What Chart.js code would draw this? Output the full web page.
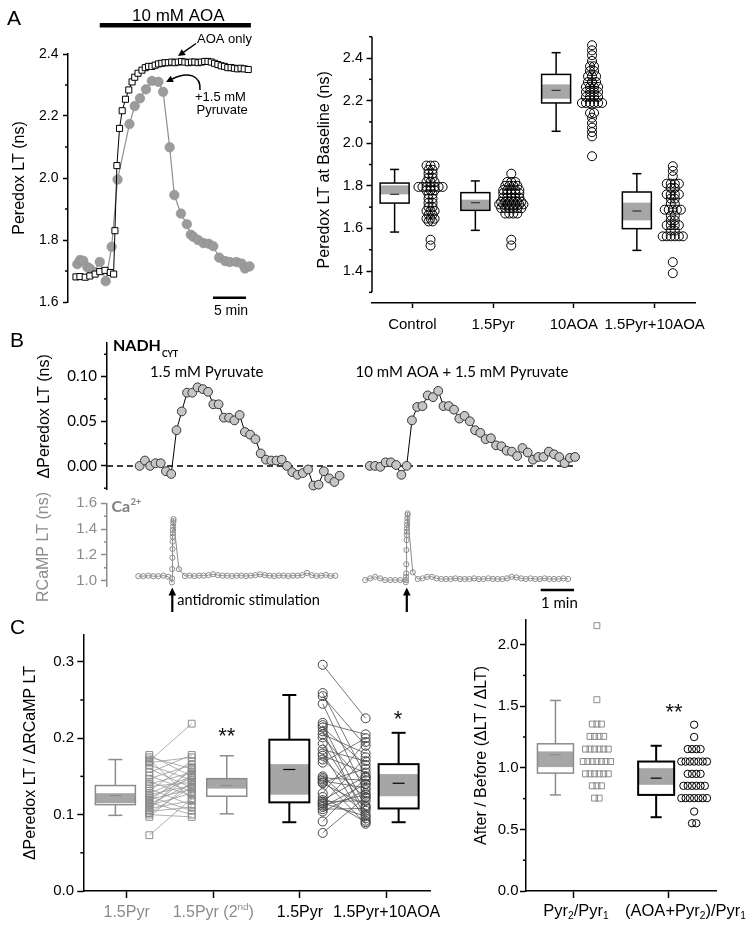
<!DOCTYPE html>
<html>
<head>
<meta charset="utf-8">
<title>Peredox / RCaMP lifetime figure</title>
<script src="https://cdn.jsdelivr.net/npm/chart.js@4.4.1/dist/chart.umd.min.js"></script>
<style>
  html, body { margin: 0; padding: 0; background: #fff; }
  #fig { position: relative; width: 754px; height: 929px; }
  #fig canvas { position: absolute; left: 0; top: 0; }
</style>
</head>
<body>
<div id="fig">
  <canvas id="a1" width="754" height="929"></canvas>
  <canvas id="a2" width="754" height="929"></canvas>
  <canvas id="b1" width="754" height="929"></canvas>
  <canvas id="b2" width="754" height="929"></canvas>
  <canvas id="c1" width="754" height="929"></canvas>
  <canvas id="c2" width="754" height="929"></canvas>
</div>
<script>
/* Peredox / RCaMP lifetime figure, panels A-C */

const ARIAL = '"Liberation Sans", Arial, sans-serif';
const HUMAN = 'Lato, "Open Sans", sans-serif';
const PAGE_W = 754, PAGE_H = 929;

/* ---- Panel A, left: single-cell traces (time in min, LT in ns) ---- */
const aoaTime = [0.3, 0.9, 1.7, 2.4, 3.2, 3.9, 4.7, 5.5, 6.0, 6.2, 6.5, 6.9, 7.3, 7.8, 8.3, 8.8, 9.2, 9.7, 10.3,
  10.8, 11.3, 11.8, 12.3, 12.8, 13.3, 13.8, 14.3, 14.8, 15.3, 15.8, 16.3, 16.8, 17.3, 17.8, 18.3, 18.8, 19.3,
  19.8, 20.3, 20.8, 21.3, 21.8, 22.3, 22.8, 23.3, 23.8, 24.3, 24.8, 25.3, 25.8, 26.4];
const aoaLT = [1.681, 1.682, 1.680, 1.684, 1.690, 1.698, 1.702, 1.695, 1.690, 1.830, 2.040, 2.160, 2.217, 2.254,
  2.284, 2.310, 2.325, 2.338, 2.348, 2.356, 2.360, 2.360, 2.364, 2.368, 2.370, 2.372, 2.372, 2.374, 2.372, 2.374,
  2.376, 2.374, 2.372, 2.374, 2.374, 2.372, 2.374, 2.376, 2.376, 2.374, 2.370, 2.366, 2.362, 2.360, 2.356, 2.356,
  2.354, 2.352, 2.354, 2.352, 2.350];
const pyrTime = [0.5, 0.9, 1.4, 2.0, 2.4, 3.0, 3.9, 4.8, 5.7, 6.6, 8.4, 9.2, 10.0, 10.9, 11.8, 12.8, 13.5, 14.5,
  15.2, 16.2, 17.1, 17.7, 18.1, 18.8, 19.6, 20.4, 21.1, 22.0, 22.9, 23.6, 24.6, 25.4, 25.9, 26.6];
const pyrLT = [1.722, 1.735, 1.733, 1.713, 1.708, 1.697, 1.729, 1.667, 1.778, 1.995, 2.174, 2.232, 2.257, 2.286,
  2.313, 2.310, 2.278, 2.099, 1.945, 1.885, 1.851, 1.817, 1.810, 1.800, 1.790, 1.788, 1.780, 1.743, 1.732, 1.729,
  1.729, 1.724, 1.708, 1.715];
const AOA_ON = [3.9, 26.8];
const SCALE_A = [21.06, 5];          // start, length (min)

/* ---- Panel A, right: baseline LT per cell ---- */
const baseGroups = ['Control', '1.5Pyr', '10AOA', '1.5Pyr+10AOA'];
const baseCtrl = [1.895, 1.895, 1.895, 1.875, 1.875, 1.857, 1.857, 1.838, 1.838, 1.818, 1.818, 1.818,
  1.795, 1.795, 1.795, 1.795, 1.795, 1.795, 1.795, 1.779, 1.779, 1.779, 1.76, 1.76, 1.74, 1.74, 1.72, 1.72,
  1.70, 1.70, 1.682, 1.682, 1.682, 1.665, 1.665, 1.646, 1.646, 1.646, 1.633, 1.633, 1.547, 1.52];
const basePyr = [1.857, 1.818, 1.818, 1.818, 1.80, 1.80, 1.80, 1.80, 1.78, 1.78, 1.78, 1.78, 1.78,
  1.765, 1.765, 1.765, 1.765, 1.765, 1.745, 1.745, 1.745, 1.745, 1.745, 1.725, 1.725, 1.725, 1.725, 1.725, 1.725,
  1.713, 1.713, 1.713, 1.713, 1.713, 1.713, 1.713, 1.695, 1.695, 1.695, 1.695, 1.695, 1.695,
  1.67, 1.67, 1.67, 1.67, 1.547, 1.52];
const baseAoa = [2.46, 2.436, 2.413, 2.386, 2.361, 2.361, 2.339, 2.339, 2.314, 2.314, 2.314, 2.287, 2.287, 2.287,
  2.264, 2.264, 2.264, 2.264, 2.24, 2.24, 2.24, 2.24, 2.217, 2.217, 2.217, 2.217,
  2.189, 2.189, 2.189, 2.189, 2.189, 2.189, 2.142, 2.142, 2.12, 2.095, 2.073, 2.052, 2.032, 1.939];
const basePyrAoa = [1.892, 1.87, 1.845, 1.81, 1.81, 1.81, 1.81, 1.79, 1.79, 1.76, 1.76, 1.76, 1.76, 1.74, 1.74,
  1.716, 1.716, 1.688, 1.688, 1.688, 1.688, 1.688, 1.66, 1.66, 1.638, 1.638, 1.615, 1.615, 1.615, 1.615,
  1.59, 1.59, 1.563, 1.563, 1.563, 1.563, 1.563, 1.563, 1.442, 1.39];
const baseHi     = [1.877, 1.823, 2.425, 1.857];
const baseQ3     = [1.813, 1.768, 2.323, 1.771];
const baseBandHi = [1.802, 1.735, 2.276, 1.721];
const baseBandLo = [1.760, 1.688, 2.209, 1.638];
const baseMean   = [1.760, 1.721, 2.248, 1.682];
const baseQ1     = [1.719, 1.685, 2.189, 1.599];
const baseLo     = [1.583, 1.591, 2.056, 1.497];

/* ---- Panel B, top: dPeredox LT after pyruvate (ns) ---- */
const nadhPyr = [0.000, 0.006, 0.000, 0.003, 0.003, -0.006, -0.009, 0.040, 0.061, 0.082, 0.082, 0.088, 0.086,
  0.083, 0.069, 0.069, 0.054, 0.054, 0.051, 0.057, 0.038, 0.035, 0.030, 0.014, 0.007, 0.006, 0.006, 0.007,
  0.000, -0.007, -0.010, -0.008, -0.004, -0.022, -0.021, -0.006, -0.014, -0.018, -0.011];
const nadhAoaPyr = [0.000, 0.000, -0.001, 0.004, 0.004, 0.001, -0.010, 0.000, 0.051, 0.066, 0.067, 0.079,
  0.077, 0.084, 0.067, 0.067, 0.063, 0.053, 0.056, 0.050, 0.040, 0.037, 0.030, 0.031, 0.023, 0.022, 0.017,
  0.016, 0.011, 0.020, 0.015, 0.007, 0.010, 0.010, 0.016, 0.013, 0.010, 0.003, 0.009, 0.010];
const NADH_START = [0.98, 7.89];     // min
const NADH_STEP = 0.158;

/* ---- Panel B, bottom: RCaMP LT around the stimulation (ns) ---- */
const rcamp1 = [
  1.035, 1.035, 1.039, 1.035, 1.035, 1.039, 1.030,                                   // before
  0.987, 1.018, 1.09, 1.178, 1.246, 1.302, 1.341, 1.367, 1.393, 1.419, 1.445, 1.463, 1.478, // burst
  1.09,
  1.036, 1.039, 1.036, 1.039, 1.039, 1.043, 1.051, 1.043, 1.039, 1.039, 1.036, 1.039, 1.039, 1.036, 1.039,
  1.043, 1.049, 1.043, 1.039, 1.036, 1.039, 1.039, 1.036, 1.039, 1.039, 1.043, 1.060, 1.043, 1.036, 1.039,
  1.045, 1.036, 1.039];
const rcamp2 = [
  1.005, 1.018, 1.03, 1.018, 1.005, 1.005, 1.005, 1.005,
  0.988, 1.005, 1.03, 1.056, 1.127, 1.238, 1.315, 1.354, 1.38, 1.406, 1.432, 1.457, 1.484, 1.509, 1.522,
  1.065,
  1.013, 1.018, 1.03, 1.03, 1.018, 1.013, 1.013, 1.013, 1.018, 1.013, 1.013, 1.013, 1.018, 1.013, 1.013,
  1.018, 1.013, 1.013, 1.013, 1.018, 1.03, 1.025, 1.018, 1.013, 1.018, 1.013, 1.013, 1.018, 1.013, 1.013,
  1.013, 1.018, 1.013];
const STIM_T = [1.96, 9.0];          // min
const SCALE_B = [13.02, 1];

/* ---- Panel C, left: dPeredox / dRCaMP, paired ---- */
const ratioGroups = ['1.5Pyr', '1.5Pyr (2^{nd})', '1.5Pyr', '1.5Pyr+10AOA'];
const pyrFirst = [0.170, 0.178, 0.175, 0.172, 0.168, 0.165, 0.160, 0.155, 0.151, 0.147, 0.143, 0.140, 0.137,
  0.134, 0.131, 0.128, 0.126, 0.124, 0.122, 0.120, 0.118, 0.116, 0.114, 0.112, 0.110, 0.108, 0.106, 0.104,
  0.102, 0.100, 0.097, 0.073];
const pyrSecond = [0.219, 0.150, 0.160, 0.120, 0.175, 0.145, 0.135, 0.178, 0.130, 0.165, 0.125, 0.155, 0.142,
  0.112, 0.170, 0.150, 0.138, 0.105, 0.148, 0.133, 0.158, 0.100, 0.140, 0.128, 0.152, 0.118, 0.162, 0.110,
  0.136, 0.097, 0.143, 0.121];
const pyrBefore = [0.296, 0.259, 0.255, 0.245, 0.220, 0.217, 0.214, 0.209, 0.205, 0.201, 0.193, 0.185, 0.180,
  0.177, 0.172, 0.168, 0.150, 0.148, 0.146, 0.144, 0.142, 0.141, 0.128, 0.123, 0.119, 0.117, 0.115, 0.114,
  0.112, 0.110, 0.107, 0.104, 0.091, 0.076];
const pyrAoaAfter = [0.226, 0.150, 0.190, 0.128, 0.205, 0.110, 0.165, 0.095, 0.180, 0.140, 0.105, 0.170, 0.092,
  0.155, 0.122, 0.200, 0.100, 0.145, 0.088, 0.135, 0.160, 0.112, 0.195, 0.090, 0.150, 0.118, 0.098, 0.175,
  0.126, 0.140, 0.108, 0.132, 0.148, 0.123];
const ratHi     = [0.172, 0.177, 0.2565, 0.207];
const ratQ3     = [0.138, 0.147, 0.198, 0.166];
const ratBandHi = [0.128, 0.147, 0.166, 0.153];
const ratBandLo = [0.115, 0.134, 0.126, 0.124];
const ratMean   = [0.125, 0.138, 0.159, 0.141];
const ratQ1     = [0.113, 0.124, 0.116, 0.108];
const ratLo     = [0.099, 0.101, 0.090, 0.090];

/* ---- Panel C, right: after / before ---- */
const relGroups = ['Pyr_{2}/Pyr_{1}', '(AOA+Pyr_{2})/Pyr_{1}'];
const relPyr = [2.154, 1.553, 1.355, 1.355, 1.355, 1.255, 1.255, 1.255, 1.255, 1.152, 1.152, 1.152, 1.152,
  1.152, 1.152, 1.051, 1.051, 1.051, 1.051, 1.051, 1.051, 1.051, 0.951, 0.951, 0.951, 0.951, 0.951, 0.951,
  0.854, 0.854, 0.854, 0.754, 0.754];
const relAoa = [1.35, 1.25, 1.152, 1.152, 1.152, 1.152, 1.051, 1.051, 1.051, 1.051, 1.051, 1.051, 1.051,
  0.951, 0.951, 0.951, 0.951, 0.854, 0.854, 0.854, 0.854, 0.854, 0.854, 0.754, 0.754, 0.754, 0.754, 0.754,
  0.754, 0.754, 0.645, 0.55, 0.55];
const relHi     = [1.547, 1.179];
const relQ3     = [1.195, 1.051];
const relBandHi = [1.133, 0.997];
const relBandLo = [1.006, 0.862];
const relMean   = [1.106, 0.916];
const relQ1     = [0.957, 0.780];
const relLo     = [0.780, 0.599];

/* ---- helpers ---- */
const pts = (xs, ys) => xs.map((x, i) => ({ x, y: ys[i] }));
const grid = (t0, dt, n) => Array.from({ length: n }, (_, i) => +(t0 + i * dt).toFixed(3));
const atX = (x, ys) => ys.map(y => ({ x, y }));

function swarm(values, center, step) {
  const counts = {}, seen = {};
  values.forEach(v => { counts[v] = (counts[v] || 0) + 1; });
  return values.map(v => {
    seen[v] = seen[v] === undefined ? 0 : seen[v] + 1;
    return { x: center + (seen[v] - (counts[v] - 1) / 2) * step, y: v };
  });
}

function line(ctx, x1, y1, x2, y2) {
  ctx.beginPath(); ctx.moveTo(x1, y1); ctx.lineTo(x2, y2); ctx.stroke();
}

function head(ctx, x, y, ang, len, half) {
  const bx = x - len * Math.cos(ang), by = y - len * Math.sin(ang);
  ctx.beginPath();
  ctx.moveTo(x, y);
  ctx.lineTo(bx + half * Math.sin(ang), by - half * Math.cos(ang));
  ctx.lineTo(bx - half * Math.sin(ang), by + half * Math.cos(ang));
  ctx.closePath(); ctx.fill();
}

function arrow(ctx, x1, y1, x2, y2, len, half, lw) {
  const a = Math.atan2(y2 - y1, x2 - x1);
  ctx.lineWidth = lw;
  line(ctx, x1, y1, x2 - len * 0.8 * Math.cos(a), y2 - len * 0.8 * Math.sin(a));
  head(ctx, x2, y2, a, len, half);
}

function txt(ctx, s, x, y, font, color, align) {
  ctx.font = font; ctx.fillStyle = color;
  ctx.textAlign = align || 'center'; ctx.textBaseline = 'alphabetic';
  ctx.fillText(s, x, y);
}

// "1.5Pyr (2^{nd})" / "Pyr_{2}" -> segments with super/subscripts
function parseRich(str) {
  return str.split(/(\^\{[^}]*\}|_\{[^}]*\})/).filter(Boolean).map(p => {
    if (p[0] === '^') return { t: p.slice(2, -1), sup: true };
    if (p[0] === '_') return { t: p.slice(2, -1), sub: true };
    return { t: p };
  });
}

function rich(ctx, str, cx, baseline, size, color) {
  const parts = parseRich(str).map(s => {
    const f = `${(s.sub || s.sup) ? size * 0.62 : size}px ${ARIAL}`;
    ctx.font = f;
    return { s, f, w: ctx.measureText(s.t).width };
  });
  let x = cx - parts.reduce((a, p) => a + p.w, 0) / 2;
  ctx.fillStyle = color; ctx.textAlign = 'left'; ctx.textBaseline = 'alphabetic';
  parts.forEach(p => {
    ctx.font = p.f;
    const dy = p.s.sub ? size * 0.2 : p.s.sup ? -size * 0.42 : 0;
    ctx.fillText(p.s.t, x, baseline + dy);
    x += p.w;
  });
}

/* ---- shared chart config ---- */
function baseOptions(area, yW, xH) {
  return {
    responsive: false, animation: false, devicePixelRatio: 1, events: [],
    layout: {
      autoPadding: false,
      padding: { left: area.left - yW, top: area.top, right: PAGE_W - area.right, bottom: PAGE_H - area.bottom - xH }
    },
    plugins: { legend: { display: false }, tooltip: { enabled: false } }
  };
}

function yScale(o) {
  const col = o.color || '#000';
  return {
    type: 'linear', position: 'left', min: o.min, max: o.max,
    afterFit: s => { s.width = o.width; },
    afterBuildTicks: s => { s.ticks = o.ticks.map(value => ({ value })); },
    border: { display: o.border !== false, color: col, width: 1.5 },
    grid: { drawOnChartArea: false, tickLength: o.tickLen, tickWidth: 1.5, color: col },
    ticks: { padding: o.pad, color: col, font: o.font, callback: v => v.toFixed(o.digits) },
    title: o.title
      ? { display: true, text: o.title, color: col, font: o.titleFont, padding: { top: o.titlePad, bottom: 0 } }
      : { display: false }
  };
}

function xScale(o) {
  if (!o.display) return { type: 'linear', display: false, min: o.min, max: o.max };
  return {
    type: 'linear', position: 'bottom', min: o.min, max: o.max,
    afterFit: s => { s.height = o.height; },
    afterBuildTicks: s => { s.ticks = o.ticks.map(value => ({ value })); },
    border: { color: '#000', width: 1.5 },
    grid: { drawOnChartArea: false, tickLength: o.tickLen, tickWidth: 1.5, color: '#000' },
    ticks: { display: false }
  };
}

// short minor ticks (and optionally a y axis line shorter than the plot box)
const minorTicks = {
  id: 'minorTicks',
  afterDraw(chart, args, opts) {
    if (!opts.values) return;
    const { ctx, chartArea, scales: { y } } = chart;
    ctx.save();
    ctx.strokeStyle = opts.color || '#000'; ctx.lineWidth = 1.5;
    opts.values.forEach(v => {
      const py = y.getPixelForValue(v);
      line(ctx, chartArea.left - opts.len, py, chartArea.left, py);
    });
    if (opts.axis) line(ctx, chartArea.left, y.getPixelForValue(opts.axis[0]), chartArea.left, y.getPixelForValue(opts.axis[1]));
    ctx.restore();
  }
};
Chart.register(minorTicks);

function boxPlugin(stats, st) {
  return {
    id: 'boxes',
    beforeDatasetsDraw(chart) {
      const { ctx, scales: { x, y } } = chart;
      ctx.save();
      stats.mean.forEach((m, i) => {
        const cx = x.getPixelForValue(i + st.offset[i]);
        const hw = st.width / 2, cw = st.cap / 2;
        const py = k => y.getPixelForValue(stats[k][i]);
        ctx.strokeStyle = st.color[i]; ctx.lineWidth = st.lw[i];
        line(ctx, cx, py('hi'), cx, py('q3'));
        line(ctx, cx, py('q1'), cx, py('lo'));
        line(ctx, cx - cw, py('hi'), cx + cw, py('hi'));
        line(ctx, cx - cw, py('lo'), cx + cw, py('lo'));
        ctx.fillStyle = '#fff';
        ctx.fillRect(cx - hw, py('q3'), 2 * hw, py('q1') - py('q3'));
        ctx.fillStyle = st.band;
        ctx.fillRect(cx - hw, py('bandHi'), 2 * hw, py('bandLo') - py('bandHi'));
        ctx.strokeRect(cx - hw, py('q3'), 2 * hw, py('q1') - py('q3'));
        ctx.lineWidth = 1.2; ctx.strokeStyle = st.meanColor[i];
        line(ctx, cx - st.meanHalf, py('mean'), cx + st.meanHalf, py('mean'));
      });
      ctx.restore();
    }
  };
}

function catLabels(labels, colors, size, baseline, dx) {
  return {
    id: 'catLabels',
    afterDraw(chart) {
      const { ctx, scales: { x } } = chart;
      ctx.save();
      labels.forEach((s, i) => rich(ctx, s, x.getPixelForValue(i) + (dx ? dx[i] : 0), baseline, size, colors[i]));
      ctx.restore();
    }
  };
}

function stars(marks, size) {
  return {
    id: 'stars',
    afterDraw(chart) {
      const { ctx, scales: { x, y } } = chart;
      ctx.save();
      marks.forEach(m => txt(ctx, m.t, x.getPixelForValue(m.x), y.getPixelForValue(m.y) + size * 0.6,
        `${size}px ${ARIAL}`, '#111'));
      ctx.restore();
    }
  };
}

/* ---- Panel A, left ---- */
function renderA1() {
  const area = { left: 68, top: 54, right: 252, bottom: 302 };
  const opts = baseOptions(area, 68, 0);
  opts.scales = {
    x: xScale({ display: false, min: -0.91, max: 26.97 }),
    y: yScale({ min: 1.6, max: 2.4, width: 68, ticks: [1.6, 1.8, 2.0, 2.2, 2.4], digits: 1, tickLen: 5, pad: 4.5,
      font: { family: ARIAL, size: 14 }, title: 'Peredox LT (ns)', titleFont: { family: ARIAL, size: 16 }, titlePad: 10.4 })
  };
  opts.plugins.minorTicks = { values: [1.7, 1.9, 2.1, 2.3], len: 3 };

  const notes = {
    id: 'notesA1',
    afterDraw(chart) {
      const { ctx, scales: { x } } = chart;
      ctx.save();
      txt(ctx, 'A', 7, 25, `21px ${ARIAL}`, '#000', 'left');
      const x0 = x.getPixelForValue(AOA_ON[0]), x1 = x.getPixelForValue(AOA_ON[1]);
      ctx.fillStyle = '#000';
      ctx.fillRect(x0, 23, x1 - x0, 4.5);
      txt(ctx, '10 mM AOA', (x0 + x1) / 2 + 3, 20.7, `17px ${ARIAL}`, '#000');
      txt(ctx, 'AOA only', 197, 42.5, `13px ${ARIAL}`, '#000', 'left');
      ctx.strokeStyle = '#000'; ctx.fillStyle = '#000';
      arrow(ctx, 196, 43.5, 178, 56, 7, 3.5, 1.5);
      txt(ctx, '+1.5 mM', 195, 100.5, `13px ${ARIAL}`, '#000', 'left');
      txt(ctx, 'Pyruvate', 196.5, 113.5, `13px ${ARIAL}`, '#000', 'left');
      ctx.lineWidth = 1.5;
      ctx.beginPath(); ctx.moveTo(200, 90); ctx.bezierCurveTo(201, 75, 188, 71, 172, 79); ctx.stroke();
      head(ctx, 166, 82, Math.atan2(82 - 71, 166 - 188), 7, 3.5);
      const s0 = x.getPixelForValue(SCALE_A[0]), s1 = x.getPixelForValue(SCALE_A[0] + SCALE_A[1]);
      ctx.lineWidth = 2.5; line(ctx, s0, 297.7, s1, 297.7);
      txt(ctx, '5 min', (s0 + s1) / 2 + 1.5, 315, `14px ${ARIAL}`, '#000');
      ctx.restore();
    }
  };

  new Chart(document.getElementById('a1'), {
    type: 'scatter',
    data: { datasets: [
      { data: pts(aoaTime, aoaLT), showLine: true, borderColor: '#000', borderWidth: 1, pointStyle: 'rect',
        pointRadius: 4.3, pointBorderColor: '#000', pointBackgroundColor: '#fff', pointBorderWidth: 1, clip: false },
      { data: pts(pyrTime, pyrLT), showLine: true, borderColor: '#8f8f8f', borderWidth: 1.2, pointRadius: 4.8,
        pointBorderColor: '#8a8a8a', pointBackgroundColor: '#9b9b9b', pointBorderWidth: 0.5, clip: false }
    ] },
    options: opts,
    plugins: [notes]
  });
}

/* ---- Panel A, right ---- */
function renderA2() {
  const area = { left: 372, top: 36.7, right: 695, bottom: 303 };
  const opts = baseOptions(area, 60, 30);
  opts.scales = {
    x: xScale({ display: true, min: -0.5, max: 3.5, height: 30, ticks: [0, 1, 2, 3], tickLen: 5 }),
    y: yScale({ min: 1.25, max: 2.5, width: 60, ticks: [1.4, 1.6, 1.8, 2.0, 2.2, 2.4], digits: 1, tickLen: 5.5,
      pad: 3.5, border: false, font: { family: ARIAL, size: 14.5 }, title: 'Peredox LT at Baseline (ns)',
      titleFont: { family: ARIAL, size: 16 }, titlePad: 2.9 })
  };
  opts.plugins.minorTicks = { values: [1.3, 1.5, 1.7, 1.9, 2.1, 2.3, 2.5], len: 3, axis: [1.3, 2.5] };

  const dot = { pointRadius: 4.5, pointBorderColor: '#000', pointBackgroundColor: 'rgba(255,255,255,0)',
    pointBorderWidth: 1, clip: false };
  const groups = [baseCtrl, basePyr, baseAoa, basePyrAoa];
  new Chart(document.getElementById('a2'), {
    type: 'scatter',
    data: { datasets: groups.map((g, i) => Object.assign({ data: swarm(g, i + 0.225, 0.05) }, dot)) },
    options: opts,
    plugins: [
      boxPlugin({ hi: baseHi, q3: baseQ3, bandHi: baseBandHi, bandLo: baseBandLo, mean: baseMean, q1: baseQ1, lo: baseLo },
        { offset: [-0.22, -0.22, -0.22, -0.22], width: 29, cap: 9, color: ['#000', '#000', '#000', '#000'],
          lw: [1.5, 1.5, 1.5, 1.5], band: '#a6a6a6', meanColor: ['#333', '#333', '#333', '#333'], meanHalf: 4.5 }),
      catLabels(baseGroups, ['#000', '#000', '#000', '#000'], 15, 329)
    ]
  });
}

/* ---- Panel B, top ---- */
function renderB1() {
  const area = { left: 107, top: 342.7, right: 590, bottom: 490 };
  const opts = baseOptions(area, 77, 0);
  opts.scales = {
    x: xScale({ display: false, min: 0, max: 14.5 }),
    y: yScale({ min: -0.027, max: 0.138, width: 77, ticks: [0, 0.05, 0.1], digits: 2, tickLen: 6, pad: 4,
      font: { family: HUMAN, size: 15 }, title: '\u0394Peredox LT (ns)', titleFont: { family: ARIAL, size: 16 }, titlePad: 5.4 })
  };
  opts.plugins.minorTicks = { values: [-0.025, 0.025, 0.075, 0.125], len: 3 };

  const lastT = NADH_START[1] + NADH_STEP * (nadhAoaPyr.length - 1);
  const notes = {
    id: 'notesB1',
    beforeDatasetsDraw(chart) {
      const { ctx, scales: { x, y } } = chart;
      ctx.save();
      ctx.strokeStyle = '#000'; ctx.lineWidth = 1.5; ctx.setLineDash([6, 4]);
      line(ctx, x.getPixelForValue(0), y.getPixelForValue(0), x.getPixelForValue(lastT), y.getPixelForValue(0));
      ctx.restore();
    },
    afterDraw(chart) {
      const { ctx } = chart;
      ctx.save();
      txt(ctx, 'B', 10, 347, `21px ${ARIAL}`, '#000', 'left');
      txt(ctx, 'NADH', 113, 350.7, `bold 16px ${HUMAN}`, '#000', 'left');
      ctx.font = `bold 16px ${HUMAN}`;
      const w = ctx.measureText('NADH').width;
      txt(ctx, 'CYT', 113 + w + 1, 356.5, `bold 8.5px ${HUMAN}`, '#000', 'left');
      txt(ctx, '1.5 mM Pyruvate', 206.7, 376.7, `15px ${HUMAN}`, '#000');
      txt(ctx, '10 mM AOA + 1.5 mM Pyruvate', 462, 376.7, `15px ${HUMAN}`, '#000');
      ctx.restore();
    }
  };

  const trace = { showLine: true, borderColor: '#000', borderWidth: 1, pointRadius: 4.4, pointBorderColor: '#333',
    pointBackgroundColor: '#c6c6c6', pointBorderWidth: 1, clip: false };
  new Chart(document.getElementById('b1'), {
    type: 'scatter',
    data: { datasets: [
      Object.assign({ data: pts(grid(NADH_START[0], NADH_STEP, nadhPyr.length), nadhPyr) }, trace),
      Object.assign({ data: pts(grid(NADH_START[1], NADH_STEP, nadhAoaPyr.length), nadhAoaPyr) }, trace)
    ] },
    options: opts,
    plugins: [notes]
  });
}

/* ---- Panel B, bottom ---- */
function renderB2() {
  const area = { left: 107, top: 503.3, right: 590, bottom: 586.7 };
  const opts = baseOptions(area, 77, 0);
  opts.scales = {
    x: xScale({ display: false, min: 0, max: 14.5 }),
    y: yScale({ min: 0.9535, max: 1.6, width: 77, ticks: [1.0, 1.2, 1.4, 1.6], digits: 1, tickLen: 6, pad: 4,
      color: '#8c8c8c', font: { family: ARIAL, size: 15 } })
  };
  opts.plugins.minorTicks = { values: [1.1, 1.3, 1.5], len: 3, color: '#8c8c8c' };

  const t1 = [...grid(0.94, 0.15, 7), ...grid(1.95, 0.004, 13), 2.16, ...grid(2.34, 0.141, 33)];
  const t2 = [...grid(7.75, 0.15, 8), ...grid(8.97, 0.004, 15), 9.18, ...grid(9.33, 0.141, 33)];

  const notes = {
    id: 'notesB2',
    afterDraw(chart) {
      const { ctx, scales: { x } } = chart;
      ctx.save();
      ctx.translate(44, 547); ctx.rotate(-Math.PI / 2);
      ctx.font = `16px ${ARIAL}`; ctx.fillStyle = '#8c8c8c'; ctx.textAlign = 'center'; ctx.textBaseline = 'middle';
      ctx.fillText('RCaMP LT (ns)', 0, 0);
      ctx.restore();
      ctx.save();
      txt(ctx, 'Ca', 111.5, 511.5, `bold 16px ${HUMAN}`, '#7f7f7f', 'left');
      ctx.font = `bold 16px ${HUMAN}`;
      txt(ctx, '2+', 111.5 + ctx.measureText('Ca').width + 0.5, 504.5, `bold 9px ${HUMAN}`, '#7f7f7f', 'left');
      ctx.strokeStyle = '#000'; ctx.fillStyle = '#000';
      STIM_T.forEach(t => {
        const px = x.getPixelForValue(t);
        arrow(ctx, px, 612, px, 587.5, 8, 3.8, 2.2);
      });
      txt(ctx, 'antidromic stimulation', x.getPixelForValue(STIM_T[0]) + 5, 605, `14.5px ${HUMAN}`, '#000', 'left');
      const s0 = x.getPixelForValue(SCALE_B[0]), s1 = x.getPixelForValue(SCALE_B[0] + SCALE_B[1]);
      ctx.lineWidth = 2.5; ctx.strokeStyle = '#000';
      line(ctx, s0, 590, s1, 590);
      txt(ctx, '1 min', (s0 + s1) / 2 + 2, 607.5, `15px ${HUMAN}`, '#000');
      ctx.restore();
    }
  };

  const trace = { showLine: true, borderColor: '#8c8c8c', borderWidth: 1, pointRadius: 2.6, pointBorderColor: '#8c8c8c',
    pointBackgroundColor: 'rgba(255,255,255,0)', pointBorderWidth: 1, clip: false };
  new Chart(document.getElementById('b2'), {
    type: 'scatter',
    data: { datasets: [
      Object.assign({ data: pts(t1, rcamp1) }, trace),
      Object.assign({ data: pts(t2, rcamp2) }, trace)
    ] },
    options: opts,
    plugins: [notes]
  });
}

/* ---- Panel C, left ---- */
function renderC1() {
  const area = { left: 83.3, top: 635, right: 430, bottom: 891 };
  const opts = baseOptions(area, 73.3, 30);
  opts.scales = {
    x: xScale({ display: true, min: -0.5, max: 3.5, height: 30, ticks: [0, 1, 2, 3], tickLen: 7 }),
    y: yScale({ min: 0, max: 0.335, width: 73.3, ticks: [0, 0.1, 0.2, 0.3], digits: 1, tickLen: 6, pad: 3.3,
      font: { family: ARIAL, size: 15 }, title: '\u0394Peredox LT / \u0394RCaMP LT',
      titleFont: { family: ARIAL, size: 16 }, titlePad: 11.4 })
  };
  opts.plugins.minorTicks = { values: [0.05, 0.15, 0.25], len: 3 };

  const col = [0.262, 1 - 0.249, 2 + 0.262, 3 - 0.243];
  const sq = { pointStyle: 'rect', pointRadius: 4.8, pointBorderColor: '#8c8c8c',
    pointBackgroundColor: 'rgba(255,255,255,0)', pointBorderWidth: 1, clip: false };
  const ci = { pointRadius: 4.5, pointBorderColor: '#444', pointBackgroundColor: 'rgba(255,255,255,0)',
    pointBorderWidth: 1, clip: false };
  const pairs = [
    ...pyrFirst.map((v, i) => ({ data: [{ x: col[0], y: v }, { x: col[1], y: pyrSecond[i] }], showLine: true,
      borderColor: '#9a9a9a', borderWidth: 0.8, pointRadius: 0, clip: false })),
    ...pyrBefore.map((v, i) => ({ data: [{ x: col[2], y: v }, { x: col[3], y: pyrAoaAfter[i] }], showLine: true,
      borderColor: '#555', borderWidth: 0.8, pointRadius: 0, clip: false }))
  ];

  new Chart(document.getElementById('c1'), {
    type: 'scatter',
    data: { datasets: [
      Object.assign({ data: atX(col[0], pyrFirst) }, sq),
      Object.assign({ data: atX(col[1], pyrSecond) }, sq),
      Object.assign({ data: atX(col[2], pyrBefore) }, ci),
      Object.assign({ data: atX(col[3], pyrAoaAfter) }, ci),
      ...pairs
    ] },
    options: opts,
    plugins: [
      boxPlugin({ hi: ratHi, q3: ratQ3, bandHi: ratBandHi, bandLo: ratBandLo, mean: ratMean, q1: ratQ1, lo: ratLo },
        { offset: [-0.13, 0.155, -0.123, 0.138], width: 40, cap: 14, color: ['#8c8c8c', '#8c8c8c', '#000', '#000'],
          lw: [1.5, 1.5, 2, 2], band: '#a6a6a6', meanColor: ['#8c8c8c', '#8c8c8c', '#000', '#000'], meanHalf: 6 }),
      catLabels(ratioGroups, ['#8c8c8c', '#8c8c8c', '#000', '#000'], 16, 916.5),
      stars([{ t: '**', x: 1.155, y: 0.211 }, { t: '*', x: 3.13, y: 0.233 }], 22),
      { id: 'letterC', afterDraw(chart) { txt(chart.ctx, 'C', 10, 634, `21px ${ARIAL}`, '#000', 'left'); } }
    ]
  });
}

/* ---- Panel C, right ---- */
function renderC2() {
  const area = { left: 526, top: 620, right: 716, bottom: 891 };
  const opts = baseOptions(area, 66, 30);
  opts.scales = {
    x: xScale({ display: true, min: -0.5, max: 1.5, height: 30, ticks: [0, 1], tickLen: 7 }),
    y: yScale({ min: 0, max: 2.2, width: 66, ticks: [0, 0.5, 1.0, 1.5, 2.0], digits: 1, tickLen: 6, pad: 1.5,
      font: { family: ARIAL, size: 15 }, title: 'After / Before (\u0394LT / \u0394LT)',
      titleFont: { family: ARIAL, size: 16 }, titlePad: 12.1 })
  };
  opts.plugins.minorTicks = { values: [0.25, 0.75, 1.25, 1.75], len: 3 };

  new Chart(document.getElementById('c2'), {
    type: 'scatter',
    data: { datasets: [
      { data: swarm(relPyr, 0.246, 0.048), pointStyle: 'rect', pointRadius: 4.2, pointBorderColor: '#8c8c8c',
        pointBackgroundColor: 'rgba(255,255,255,0)', pointBorderWidth: 1, clip: false },
      { data: swarm(relAoa, 1.27, 0.045), pointRadius: 3.7, pointBorderColor: '#000',
        pointBackgroundColor: 'rgba(255,255,255,0)', pointBorderWidth: 1, clip: false }
    ] },
    options: opts,
    plugins: [
      boxPlugin({ hi: relHi, q3: relQ3, bandHi: relBandHi, bandLo: relBandLo, mean: relMean, q1: relQ1, lo: relLo },
        { offset: [-0.19, -0.13], width: 36, cap: 11, color: ['#8c8c8c', '#000'], lw: [1.5, 2], band: '#a6a6a6',
          meanColor: ['#8c8c8c', '#000'], meanHalf: 5.5 }),
      catLabels(relGroups, ['#000', '#000'], 16.5, 915.7, [2.5, 17]),
      stars([{ t: '**', x: 1.058, y: 1.506 }], 22)
    ]
  });
}

renderA1();
renderA2();
renderB1();
renderB2();
renderC1();
renderC2();
</script>
</body>
</html>
